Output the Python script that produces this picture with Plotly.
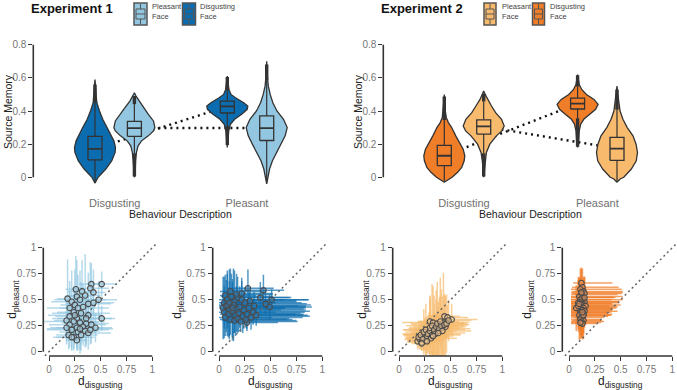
import plotly.graph_objects as go

W, H = 677, 390
FONT = "Liberation Sans, Arial, sans-serif"


def fx(p):
    return p / W


def fy(p):
    return 1 - p / H


# ---------------- colours ----------------
DARK_BLUE = "#0b6db0"
LIGHT_BLUE = "#93c6e0"
DARK_OR = "#f07d28"
LIGHT_OR = "#f8bb6e"

categories = ["Disgusting", "Pleasant"]
face_labels = ["Pleasant<br>Face", "Disgusting<br>Face"]
y_ticks_top = [0, 0.2, 0.4, 0.6, 0.8]
y_ticktext_top = ["0", "0.2", "0.4", "0.6", "0.8"]
ticks_bot = [0, 0.25, 0.5, 0.75, 1]
ticktext_bot = ["0", "0.25", "0.5", "0.75", "1"]

# ---------------- Experiment 1 violins ----------------
# order: Disgusting/dark, Disgusting/light, Pleasant/dark, Pleasant/light
e1_dd_y = [-0.035, 0.0, 0.05, 0.10, 0.15, 0.18, 0.22, 0.26, 0.30, 0.35, 0.40, 0.45, 0.50, 0.55, 0.59]
e1_dd_w = [0, 0.15, 0.53, 0.82, 0.98, 1.0, 0.92, 0.75, 0.60, 0.38, 0.22, 0.09, 0.05, 0.03, 0]
e1_dl_y = [0.0, 0.03, 0.10, 0.15, 0.19, 0.22, 0.25, 0.28, 0.30, 0.34, 0.38, 0.42, 0.46, 0.49, 0.51]
e1_dl_w = [0, 0.04, 0.06, 0.10, 0.18, 0.35, 0.68, 0.93, 1.0, 0.93, 0.68, 0.46, 0.22, 0.08, 0]
e1_pd_y = [0.18, 0.22, 0.28, 0.32, 0.35, 0.38, 0.41, 0.43, 0.45, 0.48, 0.50, 0.53, 0.57, 0.61]
e1_pd_w = [0, 0.04, 0.07, 0.15, 0.36, 0.70, 0.97, 1.0, 0.80, 0.40, 0.18, 0.08, 0.04, 0]
e1_pl_y = [-0.04, 0.0, 0.05, 0.10, 0.15, 0.20, 0.25, 0.30, 0.35, 0.40, 0.45, 0.50, 0.55, 0.60, 0.70]
e1_pl_w = [0, 0.06, 0.14, 0.28, 0.48, 0.70, 0.90, 1.0, 0.82, 0.50, 0.30, 0.17, 0.08, 0.04, 0]

e1_q1 = [0.105, 0.247, 0.388, 0.222]
e1_med = [0.172, 0.297, 0.428, 0.297]
e1_q3 = [0.247, 0.337, 0.459, 0.370]
e1_lo = [-0.03, 0.145, 0.31, -0.03]
e1_hi = [0.45, 0.44, 0.525, 0.585]
e1_out = [[(0.45, 0.56)], [(0.44, 0.49), (0.005, 0.145)], [(0.525, 0.605), (0.195, 0.31)], [(0.585, 0.68)]]

# ---------------- Experiment 2 violins ----------------
e2_dd_y = [-0.03, -0.02, 0.0, 0.03, 0.06, 0.10, 0.13, 0.17, 0.20, 0.25, 0.30, 0.33, 0.36, 0.40, 0.45, 0.50]
e2_dd_w = [0, 0.12, 0.38, 0.65, 0.85, 0.97, 1.0, 0.92, 0.78, 0.56, 0.36, 0.20, 0.10, 0.05, 0.03, 0]
e2_dl_y = [0.0, 0.05, 0.10, 0.15, 0.20, 0.25, 0.28, 0.31, 0.35, 0.39, 0.43, 0.47, 0.50, 0.52]
e2_dl_w = [0, 0.05, 0.07, 0.13, 0.30, 0.62, 0.88, 1.0, 0.87, 0.58, 0.38, 0.18, 0.07, 0]
e2_pd_y = [0.18, 0.22, 0.28, 0.32, 0.35, 0.38, 0.41, 0.44, 0.47, 0.50, 0.53, 0.56, 0.62]
e2_pd_w = [0, 0.05, 0.08, 0.15, 0.30, 0.60, 0.88, 1.0, 0.80, 0.43, 0.20, 0.08, 0]
e2_pl_y = [-0.03, -0.01, 0.0, 0.03, 0.05, 0.10, 0.15, 0.20, 0.25, 0.30, 0.35, 0.40, 0.45, 0.50, 0.55]
e2_pl_w = [0, 0.15, 0.33, 0.55, 0.70, 0.94, 1.0, 0.93, 0.78, 0.50, 0.29, 0.15, 0.08, 0.04, 0]

e2_q1 = [0.070, 0.261, 0.412, 0.102]
e2_med = [0.130, 0.307, 0.444, 0.173]
e2_q3 = [0.193, 0.347, 0.478, 0.241]
e2_lo = [-0.025, 0.145, 0.357, -0.025]
e2_hi = [0.345, 0.457, 0.548, 0.407]
e2_out = [[(0.345, 0.487)], [(0.457, 0.505), (0.005, 0.145)], [(0.548, 0.615), (0.185, 0.357)], [(0.407, 0.53)]]

# ---------------- scatter panels (d_disgusting, d_pleasant) ----------------
xA = [0.41, 0.51, 0.26, 0.32, 0.40, 0.43, 0.18, 0.22, 0.27, 0.30, 0.35, 0.48, 0.38, 0.25, 0.20, 0.28,
      0.33, 0.43, 0.24, 0.31, 0.38, 0.20, 0.27, 0.51, 0.17, 0.24, 0.30, 0.36, 0.41, 0.45, 0.20, 0.27,
      0.33, 0.17, 0.22, 0.28, 0.35, 0.19, 0.24, 0.31, 0.38, 0.27, 0.40, 0.30, 0.25, 0.36, 0.22]
yA = [0.65, 0.65, 0.60, 0.58, 0.61, 0.57, 0.51, 0.48, 0.53, 0.50, 0.54, 0.50, 0.46, 0.45, 0.42, 0.42,
      0.43, 0.47, 0.38, 0.37, 0.35, 0.34, 0.32, 0.32, 0.30, 0.29, 0.28, 0.27, 0.26, 0.23, 0.26, 0.23,
      0.24, 0.23, 0.21, 0.19, 0.20, 0.16, 0.14, 0.16, 0.18, 0.11, 0.21, 0.22, 0.35, 0.32, 0.14]
exA = [0.12, 0.15, 0.10, 0.14, 0.18, 0.12, 0.10, 0.20, 0.12, 0.25, 0.15, 0.18, 0.22, 0.14, 0.10, 0.30,
       0.12, 0.20, 0.16, 0.28, 0.12, 0.14, 0.24, 0.10, 0.12, 0.30, 0.18, 0.22, 0.14, 0.16, 0.20, 0.26,
       0.12, 0.10, 0.24, 0.18, 0.14, 0.12, 0.20, 0.16, 0.22, 0.10, 0.18, 0.32, 0.26, 0.28, 0.15]
eyA = [0.20, 0.12, 0.32, 0.30, 0.25, 0.22, 0.38, 0.30, 0.35, 0.28, 0.40, 0.18, 0.30, 0.34, 0.26, 0.32,
       0.22, 0.20, 0.25, 0.30, 0.20, 0.24, 0.28, 0.12, 0.20, 0.26, 0.30, 0.22, 0.18, 0.14, 0.22, 0.20,
       0.18, 0.16, 0.20, 0.18, 0.16, 0.14, 0.13, 0.15, 0.16, 0.10, 0.14, 0.20, 0.28, 0.24, 0.12]

xB = [0.28, 0.43, 0.11, 0.06, 0.51, 0.49, 0.40, 0.45, 0.27, 0.05, 0.08, 0.12, 0.15, 0.18, 0.22, 0.25,
      0.30, 0.34, 0.04, 0.07, 0.10, 0.14, 0.17, 0.20, 0.24, 0.29, 0.33, 0.05, 0.09, 0.13, 0.16, 0.19,
      0.23, 0.27, 0.31, 0.36, 0.06, 0.11, 0.15, 0.18, 0.21, 0.26, 0.08, 0.13, 0.17, 0.22, 0.10]
yB = [0.61, 0.59, 0.58, 0.54, 0.50, 0.43, 0.52, 0.46, 0.28, 0.47, 0.50, 0.53, 0.48, 0.52, 0.50, 0.47,
      0.49, 0.44, 0.42, 0.44, 0.40, 0.45, 0.41, 0.43, 0.40, 0.42, 0.38, 0.38, 0.36, 0.39, 0.35, 0.37,
      0.34, 0.36, 0.33, 0.35, 0.33, 0.31, 0.30, 0.32, 0.29, 0.31, 0.45, 0.42, 0.55, 0.56, 0.47]
exmB = [0.20, 0.30, 0.10, 0.05, 0.25, 0.30, 0.28, 0.30, 0.20, 0.05, 0.08, 0.10, 0.12, 0.15, 0.18, 0.20,
        0.22, 0.25, 0.04, 0.07, 0.09, 0.12, 0.14, 0.16, 0.20, 0.22, 0.25, 0.05, 0.08, 0.11, 0.13, 0.15,
        0.18, 0.20, 0.24, 0.28, 0.06, 0.10, 0.12, 0.14, 0.16, 0.20, 0.08, 0.11, 0.12, 0.15, 0.09]
expB = [0.25, 0.20, 0.35, 0.30, 0.35, 0.35, 0.30, 0.40, 0.30, 0.45, 0.55, 0.40, 0.60, 0.50, 0.65, 0.55,
        0.45, 0.50, 0.60, 0.70, 0.50, 0.75, 0.65, 0.70, 0.60, 0.55, 0.50, 0.50, 0.65, 0.75, 0.70, 0.60,
        0.65, 0.55, 0.50, 0.45, 0.45, 0.55, 0.60, 0.50, 0.55, 0.45, 0.40, 0.50, 0.35, 0.30, 0.45]
eyB = [0.18, 0.15, 0.22, 0.20, 0.10, 0.12, 0.15, 0.10, 0.08, 0.25, 0.28, 0.22, 0.30, 0.20, 0.18, 0.15,
       0.12, 0.14, 0.30, 0.25, 0.28, 0.35, 0.22, 0.20, 0.18, 0.15, 0.12, 0.25, 0.22, 0.28, 0.20, 0.18,
       0.16, 0.14, 0.12, 0.10, 0.18, 0.15, 0.12, 0.14, 0.10, 0.08, 0.30, 0.28, 0.20, 0.15, 0.32]

xC = [0.51, 0.44, 0.47, 0.30, 0.33, 0.18, 0.20, 0.22, 0.24, 0.26, 0.28, 0.19, 0.21, 0.23, 0.25, 0.27,
      0.29, 0.31, 0.24, 0.26, 0.28, 0.30, 0.32, 0.34, 0.36, 0.30, 0.32, 0.34, 0.36, 0.38, 0.40, 0.42,
      0.35, 0.37, 0.39, 0.41, 0.43, 0.45, 0.40, 0.42, 0.44, 0.46, 0.22, 0.27, 0.33, 0.38, 0.48]
yC = [0.31, 0.34, 0.33, 0.29, 0.28, 0.10, 0.12, 0.09, 0.13, 0.11, 0.14, 0.14, 0.16, 0.12, 0.17, 0.15,
      0.18, 0.13, 0.19, 0.21, 0.17, 0.20, 0.16, 0.19, 0.22, 0.23, 0.25, 0.21, 0.24, 0.20, 0.26, 0.23,
      0.17, 0.27, 0.22, 0.25, 0.28, 0.24, 0.29, 0.20, 0.26, 0.27, 0.08, 0.10, 0.15, 0.18, 0.30]
exC = [0.25, 0.15, 0.20, 0.12, 0.30, 0.10, 0.12, 0.14, 0.16, 0.18, 0.20, 0.12, 0.15, 0.18, 0.20, 0.22,
       0.16, 0.25, 0.18, 0.22, 0.25, 0.20, 0.28, 0.18, 0.22, 0.20, 0.25, 0.30, 0.22, 0.18, 0.28, 0.20,
       0.24, 0.26, 0.30, 0.22, 0.25, 0.20, 0.18, 0.28, 0.22, 0.20, 0.10, 0.14, 0.20, 0.26, 0.22]
eyC = [0.15, 0.20, 0.12, 0.25, 0.35, 0.08, 0.10, 0.08, 0.12, 0.14, 0.12, 0.10, 0.14, 0.10, 0.16, 0.18,
       0.20, 0.15, 0.22, 0.25, 0.18, 0.30, 0.20, 0.35, 0.28, 0.30, 0.40, 0.25, 0.35, 0.28, 0.45, 0.30,
       0.20, 0.40, 0.30, 0.35, 0.48, 0.30, 0.25, 0.22, 0.30, 0.28, 0.07, 0.09, 0.20, 0.25, 0.20]

xD = [0.12, 0.13, 0.11, 0.14, 0.15, 0.12, 0.10, 0.13, 0.14, 0.11, 0.12, 0.15, 0.09, 0.13, 0.12, 0.16,
      0.11, 0.14, 0.10, 0.12, 0.13, 0.15, 0.11, 0.12, 0.14, 0.10, 0.13, 0.12, 0.11, 0.14, 0.07, 0.09,
      0.12, 0.13, 0.11, 0.15, 0.12, 0.10, 0.14, 0.13]
yD = [0.66, 0.62, 0.60, 0.58, 0.56, 0.55, 0.53, 0.52, 0.50, 0.50, 0.48, 0.48, 0.47, 0.46, 0.45, 0.44,
      0.43, 0.42, 0.41, 0.40, 0.40, 0.39, 0.38, 0.37, 0.36, 0.35, 0.34, 0.33, 0.31, 0.30, 0.42, 0.44,
      0.29, 0.27, 0.28, 0.52, 0.57, 0.46, 0.35, 0.38]
exmD = [0.08, 0.10, 0.09, 0.11, 0.12, 0.10, 0.08, 0.11, 0.12, 0.09, 0.10, 0.13, 0.07, 0.11, 0.10, 0.13,
        0.09, 0.12, 0.08, 0.10, 0.11, 0.13, 0.09, 0.10, 0.12, 0.08, 0.11, 0.10, 0.09, 0.11, 0.05, 0.07,
        0.10, 0.11, 0.09, 0.13, 0.10, 0.08, 0.12, 0.11]
expD = [0.30, 0.35, 0.40, 0.38, 0.36, 0.35, 0.42, 0.30, 0.38, 0.30, 0.35, 0.32, 0.40, 0.28, 0.38, 0.30,
        0.36, 0.32, 0.33, 0.30, 0.28, 0.32, 0.30, 0.26, 0.28, 0.30, 0.25, 0.22, 0.20, 0.18, 0.35, 0.30,
        0.22, 0.15, 0.20, 0.30, 0.40, 0.32, 0.27, 0.25]
eyD = [0.15, 0.18, 0.20, 0.14, 0.16, 0.12, 0.18, 0.15, 0.20, 0.22, 0.18, 0.14, 0.25, 0.20, 0.16, 0.18,
       0.22, 0.15, 0.20, 0.24, 0.18, 0.16, 0.22, 0.20, 0.18, 0.24, 0.16, 0.20, 0.15, 0.18, 0.22, 0.25,
       0.15, 0.14, 0.16, 0.20, 0.22, 0.25, 0.18, 0.26]

diag_ext = [-0.04, 1.04]

fig = go.Figure()
shapes = []
annotations = []

# ---------------- top panels ----------------
TOP_Y0, TOP_S = 177.3, (177.3 - 44.7) / 0.8
top_dom = [fy(185), fy(35)]
top_rng = [(TOP_Y0 - 185) / TOP_S, (TOP_Y0 - 35) / TOP_S]

top_panels = [
    dict(ax="", axis_px=33.3, c1=114.7, c2=247.0, right=330,
         profs=[(e1_dd_y, e1_dd_w), (e1_dl_y, e1_dl_w), (e1_pd_y, e1_pd_w), (e1_pl_y, e1_pl_w)],
         q1=e1_q1, med=e1_med, q3=e1_q3, lo=e1_lo, hi=e1_hi, out=e1_out,
         colors=[DARK_BLUE, LIGHT_BLUE], title="Experiment 1", title_px=30,
         leg=[(134, 147, 151), (182.5, 195.5, 199)], ylab_px=8),
    dict(ax="2", axis_px=383.3, c1=464.0, c2=597.3, right=677,
         profs=[(e2_dd_y, e2_dd_w), (e2_dl_y, e2_dl_w), (e2_pd_y, e2_pd_w), (e2_pl_y, e2_pl_w)],
         q1=e2_q1, med=e2_med, q3=e2_q3, lo=e2_lo, hi=e2_hi, out=e2_out,
         colors=[DARK_OR, LIGHT_OR], title="Experiment 2", title_px=380,
         leg=[(484, 496, 501), (532.5, 544.5, 548.5)], ylab_px=358),
]


def line_trace(xs, ys, xa, ya, color="#333", width=1.2, dash=None):
    ln = dict(color=color, width=width)
    if dash:
        ln["dash"] = dash
    return go.Scatter(x=xs, y=ys, mode="lines", line=ln, xaxis=xa, yaxis=ya,
                      showlegend=False, hoverinfo="skip")


layout_axes = {}
for p in top_panels:
    xa, ya = "x" + p["ax"], "y" + p["ax"]
    S = p["c2"] - p["c1"]
    off = 19.7 / S
    maxw = 20.5 / S
    hb = 7.0 / S
    layout_axes["xaxis" + p["ax"]] = dict(
        domain=[fx(p["axis_px"]), fx(p["right"])],
        range=[1 - (p["c1"] - p["axis_px"]) / S, 1 + (p["right"] - p["c1"]) / S],
        anchor=ya, showline=False, showgrid=False, zeroline=False, ticks="",
        tickvals=[1, 2], ticktext=categories, tickfont=dict(size=11, color="#707070"),
        ticklabelstandoff=10,
    )
    layout_axes["yaxis" + p["ax"]] = dict(
        domain=top_dom, range=top_rng, anchor=xa, showline=False, showgrid=False,
        zeroline=False, ticks="outside", ticklen=4, tickwidth=1.3, tickcolor="#333",
        tickvals=y_ticks_top, ticktext=y_ticktext_top, tickfont=dict(size=10, color="#777"),
    )
    shapes.append(dict(type="line", xref=xa + " domain", yref=ya, x0=0, x1=0, y0=0, y1=0.8,
                       line=dict(color="#333", width=1.6), layer="above"))

    positions = [1 - off, 1 + off, 2 - off, 2 + off]
    cols = [p["colors"][0], p["colors"][1], p["colors"][0], p["colors"][1]]

    # dotted connecting lines (dark-dark and light-light), behind violins
    for a, b in [(0, 2), (1, 3)]:
        fig.add_trace(line_trace([positions[a], positions[b]], [p["med"][a], p["med"][b]], xa, ya,
                                 color="#111", width=2.4, dash="2px,4px"))
    # violins
    for i, (py, pw) in enumerate(p["profs"]):
        c = positions[i]
        xs = [c + w * maxw for w in pw] + [c - w * maxw for w in reversed(pw)]
        ys = list(py) + list(reversed(py))
        fig.add_trace(go.Scatter(x=xs, y=ys, mode="lines", fill="toself", fillcolor=cols[i],
                                 line=dict(color="#333", width=1.3), xaxis=xa, yaxis=ya,
                                 showlegend=False, hoverinfo="skip"))
    # boxes: whiskers, box, median
    for i in range(4):
        c = positions[i]
        fig.add_trace(line_trace([c, c], [p["lo"][i], p["q1"][i]], xa, ya, width=1.2))
        fig.add_trace(line_trace([c, c], [p["q3"][i], p["hi"][i]], xa, ya, width=1.2))
        fig.add_trace(go.Scatter(x=[c - hb, c + hb, c + hb, c - hb, c - hb],
                                 y=[p["q1"][i], p["q1"][i], p["q3"][i], p["q3"][i], p["q1"][i]],
                                 mode="lines", fill="toself", fillcolor=cols[i],
                                 line=dict(color="#333", width=1.3), xaxis=xa, yaxis=ya,
                                 showlegend=False, hoverinfo="skip"))
        fig.add_trace(line_trace([c - hb, c + hb], [p["med"][i], p["med"][i]], xa, ya, width=1.8))
    # outliers (dense, drawn as thick bars)
    for i in range(4):
        for lo, hi in p["out"][i]:
            fig.add_trace(line_trace([positions[i], positions[i]], [lo, hi], xa, ya, width=3.4))

    # titles
    annotations.append(dict(text="<b>%s</b>" % p["title"], xref="paper", yref="paper",
                            x=fx(p["title_px"] - 1), y=fy(8), xanchor="left", yanchor="middle",
                            showarrow=False, font=dict(size=13, color="#111")))
    annotations.append(dict(text="Behaviour Description", xref="paper", yref="paper",
                            x=fx((p["c1"] + p["c2"]) / 2), y=fy(214), xanchor="center", yanchor="middle",
                            showarrow=False, font=dict(size=10.5, color="#222")))
    annotations.append(dict(text="Source Memory", xref="paper", yref="paper", textangle=-90,
                            x=fx(p["ylab_px"]), y=fy(112), xanchor="center", yanchor="middle",
                            showarrow=False, font=dict(size=10.5, color="#222")))
    # legend keys
    for k, (x0, x1, tx) in enumerate(p["leg"]):
        col = p["colors"][1] if k == 0 else p["colors"][0]
        cx = (x0 + x1) / 2
        shapes.append(dict(type="rect", xref="paper", yref="paper", x0=fx(x0), x1=fx(x1), y0=fy(25), y1=fy(3),
                           fillcolor=col, line=dict(color="#555", width=1.5)))
        shapes.append(dict(type="line", xref="paper", yref="paper", x0=fx(cx), x1=fx(cx), y0=fy(24), y1=fy(4),
                           line=dict(color="#555", width=1)))
        shapes.append(dict(type="rect", xref="paper", yref="paper", x0=fx(x0 + 2), x1=fx(x1 - 2), y0=fy(19),
                           y1=fy(9), fillcolor=col, line=dict(color="#555", width=1)))
        shapes.append(dict(type="line", xref="paper", yref="paper", x0=fx(x0 + 2), x1=fx(x1 - 2), y0=fy(14),
                           y1=fy(14), line=dict(color="#555", width=1)))
        annotations.append(dict(text=face_labels[k], xref="paper", yref="paper", x=fx(tx - 1), y=fy(11.5),
                                xanchor="left", yanchor="middle", align="left", showarrow=False,
                                font=dict(size=7.5, color="#444")))

# ---------------- bottom panels ----------------
BOT_Y0, BOT_S = 351.7, 104.0
bot_dom = [fy(356), fy(240)]
bot_rng = [(BOT_Y0 - 356) / BOT_S, (BOT_Y0 - 240) / BOT_S]
XS = 103.3

bot_panels = [
    dict(ax="3", axis_px=43.3, zero=49.0, right=162, x=xA, y=yA, exm=exA, exp=exA, ey=eyA,
         err="rgba(142,196,224,0.65)", fill="rgba(170,205,222,0.6)", ylab=13),
    dict(ax="4", axis_px=212.7, zero=219.0, right=332, x=xB, y=yB, exm=exmB, exp=expB, ey=eyB,
         err="rgba(12,108,174,0.7)", fill="rgba(60,120,165,0.5)", ylab=178),
    dict(ax="5", axis_px=392.7, zero=399.0, right=512, x=xC, y=yC, exm=exC, exp=exC, ey=eyC,
         err="rgba(247,186,108,0.7)", fill="rgba(240,200,150,0.6)", ylab=363),
    dict(ax="6", axis_px=562.3, zero=569.0, right=677, x=xD, y=yD, exm=exmD, exp=expD, ey=eyD,
         err="rgba(240,125,40,0.72)", fill="rgba(230,150,95,0.55)", ylab=528),
]

for p in bot_panels:
    xa, ya = "x" + p["ax"], "y" + p["ax"]
    layout_axes["xaxis" + p["ax"]] = dict(
        domain=[fx(p["axis_px"]), fx(p["right"])],
        range=[(p["axis_px"] - p["zero"]) / XS, (p["right"] - p["zero"]) / XS],
        anchor=ya, showline=False, showgrid=False, zeroline=False, ticks="outside", ticklen=4,
        tickwidth=1.3, tickcolor="#333", tickvals=ticks_bot, ticktext=ticktext_bot,
        tickfont=dict(size=10, color="#777"),
    )
    layout_axes["yaxis" + p["ax"]] = dict(
        domain=bot_dom, range=bot_rng, anchor=xa, showline=False, showgrid=False, zeroline=False,
        ticks="outside", ticklen=4, tickwidth=1.3, tickcolor="#333", tickvals=ticks_bot,
        ticktext=ticktext_bot, tickfont=dict(size=10, color="#777"),
    )
    shapes.append(dict(type="line", xref=xa + " domain", yref=ya, x0=0, x1=0, y0=0, y1=1,
                       line=dict(color="#333", width=1.6)))
    shapes.append(dict(type="line", xref=xa, yref=ya + " domain", x0=0, x1=1, y0=0, y1=0,
                       line=dict(color="#333", width=1.6)))
    # error bars
    fig.add_trace(go.Scatter(
        x=p["x"], y=p["y"], mode="markers", marker=dict(size=2, opacity=0),
        error_x=dict(type="data", symmetric=False, array=p["exp"], arrayminus=p["exm"],
                     color=p["err"], thickness=1.5, width=0),
        error_y=dict(type="data", array=p["ey"], color=p["err"], thickness=1.5, width=0),
        xaxis=xa, yaxis=ya, showlegend=False, hoverinfo="skip"))
    # identity line
    fig.add_trace(line_trace(diag_ext, diag_ext, xa, ya, color="#666", width=1.5, dash="2px,3px"))
    # points
    fig.add_trace(go.Scatter(x=p["x"], y=p["y"], mode="markers",
                             marker=dict(size=5.5, color=p["fill"], line=dict(color="#4a4a4a", width=1.1)),
                             xaxis=xa, yaxis=ya, showlegend=False, hoverinfo="skip"))
    annotations.append(dict(text="d<sub>disgusting</sub>", xref="paper", yref="paper",
                            x=fx(p["zero"] + 0.5 * XS), y=fy(382), xanchor="center", yanchor="middle",
                            showarrow=False, font=dict(size=12, color="#222")))
    annotations.append(dict(text="d<sub>pleasant</sub>", xref="paper", yref="paper", textangle=-90,
                            x=fx(p["ylab"]), y=fy(BOT_Y0 - 0.5 * BOT_S), xanchor="center", yanchor="middle",
                            showarrow=False, font=dict(size=12, color="#222")))

fig.update_layout(
    width=W, height=H, margin=dict(l=0, r=0, t=0, b=0),
    paper_bgcolor="white", plot_bgcolor="white",
    font=dict(family=FONT, color="#333"),
    showlegend=False,
    shapes=shapes, annotations=annotations,
    **layout_axes,
)

fig.write_html("out.html")
